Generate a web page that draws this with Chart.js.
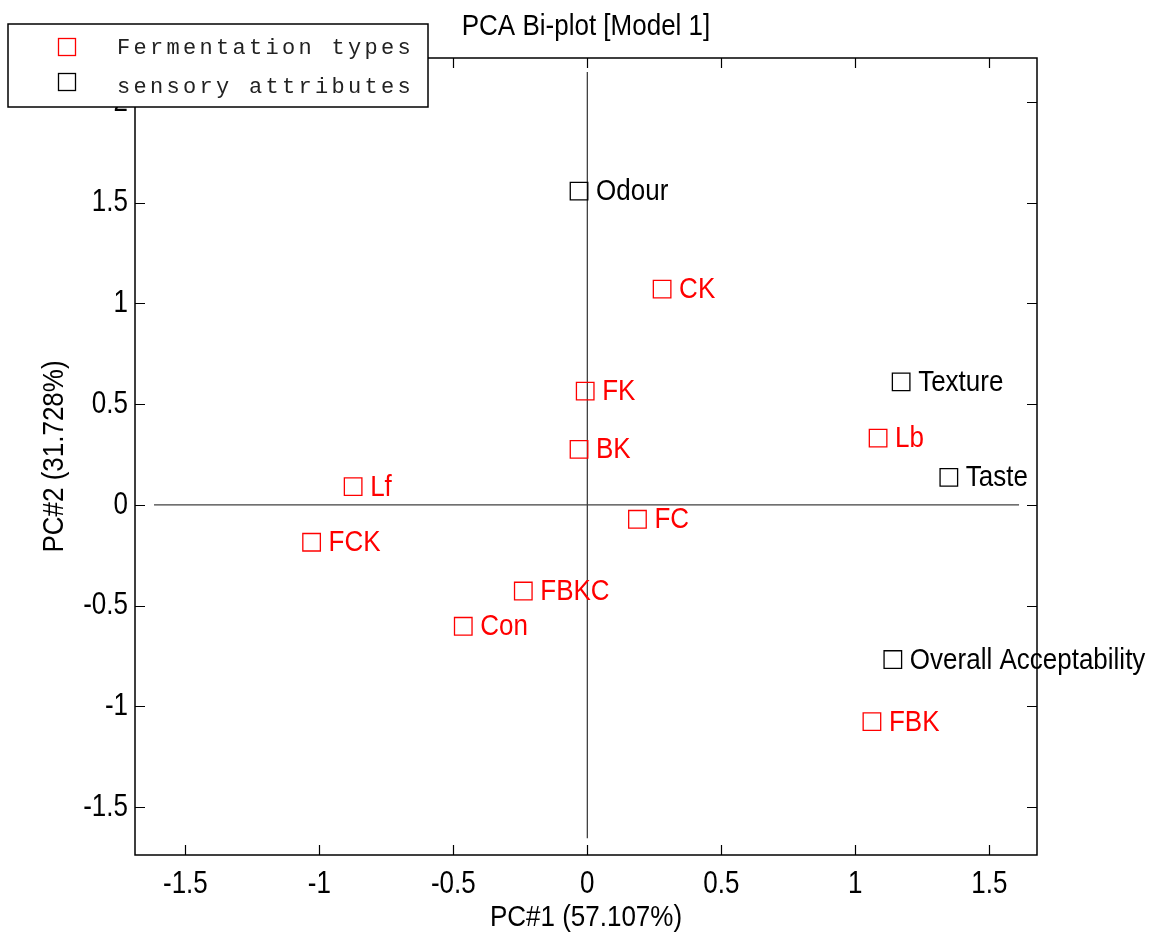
<!DOCTYPE html>
<html>
<head>
<meta charset="utf-8">
<script src="https://cdn.jsdelivr.net/npm/chart.js@4.4.1/dist/chart.umd.min.js"></script>
<style>
  body { margin: 0; background: #fff; }
  #wrap { width: 1154px; height: 939px; }
</style>
</head>
<body>
<div id="wrap"><canvas id="biplot"></canvas></div>
<script>
// fermentation types (red)
const fermLabels = ['CK', 'FK', 'BK', 'Lb', 'Lf', 'FC', 'FCK', 'FBKC', 'Con', 'FBK'];
const fermX = [0.279, -0.008, -0.031, 1.085, -0.874, 0.187, -1.029, -0.239, -0.463, 1.062];
const fermY = [1.071, 0.565, 0.276, 0.332, 0.091, -0.071, -0.185, -0.427, -0.602, -1.075];

// sensory attributes (black)
const attrLabels = ['Odour', 'Texture', 'Taste', 'Overall Acceptability'];
const attrX = [-0.031, 1.171, 1.349, 1.140];
const attrY = [1.557, 0.611, 0.137, -0.767];

// axes
const xTicks = [-1.5, -1, -0.5, 0, 0.5, 1, 1.5];
const yTicks = [-1.5, -1, -0.5, 0, 0.5, 1, 1.5, 2];
const xRange = [-1.688, 1.678];
const yRange = [-1.737, 2.218];
const zeroLineX = [-1.617, 1.611];
const zeroLineY = [-1.654, 2.149];

const FONT = '"Liberation Sans", Arial, Helvetica, sans-serif';
const MONO = '"Liberation Mono", "Courier New", monospace';

function toPoints(xs, ys) {
  return xs.map((x, i) => ({x: x, y: ys[i]}));
}

// text is a bit taller than wide in the original
function tallText(ctx, text, x, y, sy, rot) {
  ctx.save();
  ctx.translate(x, y);
  if (rot) ctx.rotate(rot);
  ctx.scale(1, sy);
  ctx.fillText(text, 0, 0);
  ctx.restore();
}

const biplotDecor = {
  id: 'biplotDecor',
  afterDatasetsDraw(chart) {
    const ctx = chart.ctx;
    const names = [fermLabels, attrLabels];
    ctx.save();
    ctx.font = '26px ' + FONT;
    ctx.textAlign = 'left';
    ctx.textBaseline = 'middle';
    [0, 1].forEach(di => {
      const meta = chart.getDatasetMeta(di);
      ctx.fillStyle = chart.data.datasets[di].borderColor;
      meta.data.forEach((el, i) => {
        tallText(ctx, names[di][i], el.x + 17, el.y + 1, 1.12);
      });
    });
    ctx.restore();
  },
  afterDraw(chart) {
    const ctx = chart.ctx;
    const a = chart.chartArea;
    const xs = chart.scales.x, ys = chart.scales.y;
    ctx.save();

    // box
    ctx.strokeStyle = '#000';
    ctx.lineWidth = 1.5;
    ctx.strokeRect(a.left, a.top, a.right - a.left, a.bottom - a.top);

    // inward ticks on all four sides
    ctx.lineWidth = 1.2;
    ctx.beginPath();
    xTicks.forEach(v => {
      const px = Math.round(xs.getPixelForValue(v)) + 0.5;
      ctx.moveTo(px, a.bottom); ctx.lineTo(px, a.bottom - 10);
      ctx.moveTo(px, a.top); ctx.lineTo(px, a.top + 10);
    });
    yTicks.forEach(v => {
      const py = Math.round(ys.getPixelForValue(v)) + 0.5;
      ctx.moveTo(a.left, py); ctx.lineTo(a.left + 10, py);
      ctx.moveTo(a.right, py); ctx.lineTo(a.right - 10, py);
    });
    ctx.stroke();

    // tick labels
    ctx.fillStyle = '#000';
    ctx.font = '26px ' + FONT;
    ctx.textBaseline = 'middle';
    ctx.textAlign = 'center';
    xTicks.forEach(v => tallText(ctx, String(v), xs.getPixelForValue(v), a.bottom + 29, 1.22));
    ctx.textAlign = 'right';
    yTicks.forEach(v => tallText(ctx, String(v), a.left - 7, ys.getPixelForValue(v), 1.22));

    // axis titles and chart title
    ctx.textAlign = 'center';
    const cx = (a.left + a.right) / 2;
    tallText(ctx, 'PC#1 (57.107%)', cx, 918, 1.15);
    tallText(ctx, 'PC#2 (31.728%)', 55, (a.top + a.bottom) / 2, 1.15, -Math.PI / 2);
    tallText(ctx, 'PCA Bi-plot [Model 1]', cx, 27, 1.15);

    // legend box (overlaps the plot, as in the original)
    ctx.fillStyle = '#fff';
    ctx.fillRect(8, 24, 420, 83);
    ctx.strokeStyle = '#000';
    ctx.lineWidth = 1.5;
    ctx.strokeRect(8, 24, 420, 83);
    const rows = [
      {text: 'Fermentation types', color: chart.data.datasets[0].borderColor, my: 47, ty: 48},
      {text: 'sensory attributes', color: chart.data.datasets[1].borderColor, my: 82, ty: 87}
    ];
    ctx.font = '22px ' + MONO;
    ctx.textAlign = 'left';
    ctx.textBaseline = 'middle';
    if ('letterSpacing' in ctx) ctx.letterSpacing = '3.3px';
    rows.forEach(r => {
      ctx.strokeStyle = r.color;
      ctx.lineWidth = 1.3;
      ctx.strokeRect(58.5, r.my - 8.5, 17, 17);
      ctx.fillStyle = '#222';
      ctx.fillText(r.text, 117, r.ty);
    });
    ctx.restore();
  }
};

const ctx = document.getElementById('biplot');
const chart = new Chart(ctx, {
  type: 'scatter',
  data: {
    datasets: [
      {
        label: 'Fermentation types',
        data: toPoints(fermX, fermY),
        borderColor: '#ff0000',
        backgroundColor: 'rgba(0,0,0,0)',
        pointStyle: 'rect',
        pointRadius: 12.4,
        pointHoverRadius: 12.4,
        borderWidth: 1.3
      },
      {
        label: 'sensory attributes',
        data: toPoints(attrX, attrY),
        borderColor: '#000000',
        backgroundColor: 'rgba(0,0,0,0)',
        pointStyle: 'rect',
        pointRadius: 12.4,
        pointHoverRadius: 12.4,
        borderWidth: 1.3
      },
      {
        type: 'line',
        data: zeroLineX.map(x => ({x: x, y: 0})),
        borderColor: '#404040',
        borderWidth: 1.3,
        pointRadius: 0
      },
      {
        type: 'line',
        data: zeroLineY.map(y => ({x: 0, y: y})),
        borderColor: '#404040',
        borderWidth: 1.3,
        pointRadius: 0
      }
    ]
  },
  options: {
    responsive: true,
    maintainAspectRatio: false,
    animation: false,
    events: [],
    layout: {
      padding: {top: 58, right: 117, left: 0, bottom: 0}
    },
    plugins: {
      legend: {display: false},
      title: {display: false},
      tooltip: {enabled: false}
    },
    scales: {
      x: {
        type: 'linear',
        position: 'bottom',
        min: xRange[0],
        max: xRange[1],
        grid: {display: false, drawTicks: false},
        border: {display: false},
        ticks: {display: false},
        afterBuildTicks: s => { s.ticks = xTicks.map(v => ({value: v})); },
        afterFit: s => { s.height = 84; }
      },
      y: {
        type: 'linear',
        position: 'left',
        min: yRange[0],
        max: yRange[1],
        grid: {display: false, drawTicks: false},
        border: {display: false},
        ticks: {display: false},
        afterBuildTicks: s => { s.ticks = yTicks.map(v => ({value: v})); },
        afterFit: s => { s.width = 135; }
      }
    }
  },
  plugins: [biplotDecor]
});
</script>
</body>
</html>
